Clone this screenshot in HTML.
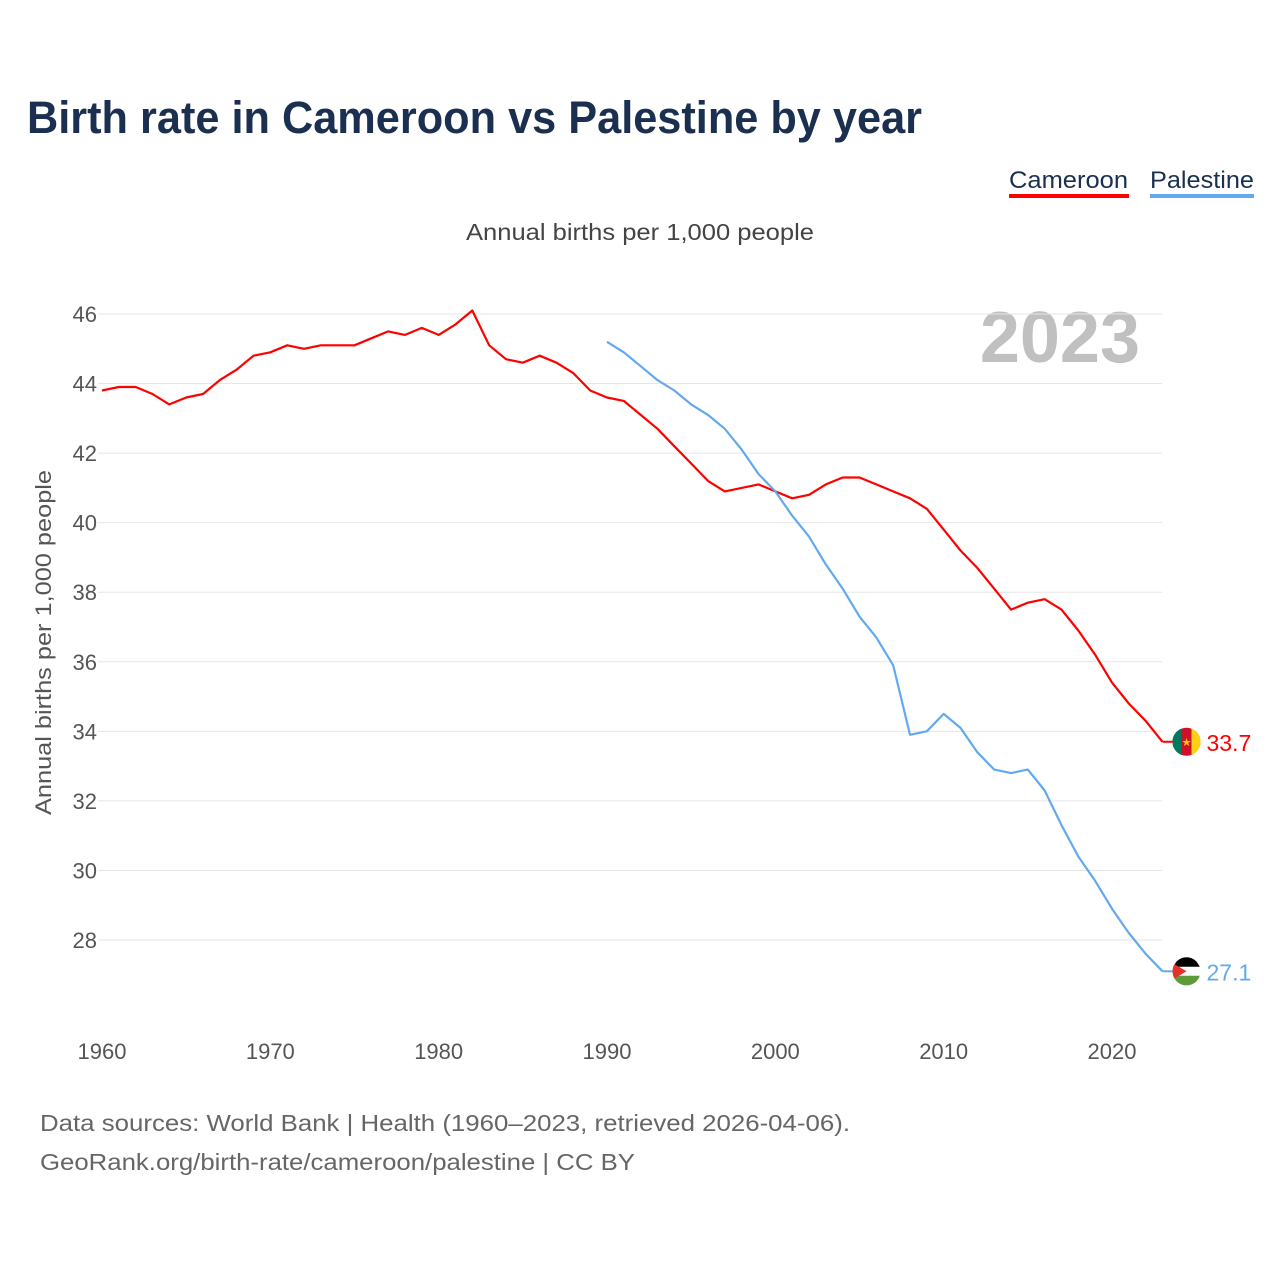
<!DOCTYPE html>
<html><head><meta charset="utf-8"><style>
body{margin:0;background:#fff;font-family:"Liberation Sans",sans-serif;}
svg text{font-family:"Liberation Sans",sans-serif;}
</style></head><body>
<svg id="c" width="1280" height="1280" xmlns="http://www.w3.org/2000/svg">
<text x="27" y="133" font-size="45" font-weight="bold" fill="#1b3050" textLength="895" lengthAdjust="spacingAndGlyphs">Birth rate in Cameroon vs Palestine by year</text>
<g><text x="1009" y="188" font-size="24" fill="#1b3050" textLength="119" lengthAdjust="spacingAndGlyphs">Cameroon</text><rect x="1009" y="194" width="120" height="4" fill="#ff0000"/></g>
<g><text x="1150" y="188" font-size="24" fill="#1b3050" textLength="104" lengthAdjust="spacingAndGlyphs">Palestine</text><rect x="1150" y="194" width="104" height="4" fill="#63a9ee"/></g>
<text x="466" y="240" font-size="23" fill="#444" textLength="348" lengthAdjust="spacingAndGlyphs">Annual births per 1,000 people</text>
<text x="1140" y="362" font-size="72" font-weight="bold" fill="#c0c0c0" text-anchor="end">2023</text>
<text transform="translate(51,815) rotate(-90)" font-size="22" fill="#555" textLength="345" lengthAdjust="spacingAndGlyphs">Annual births per 1,000 people</text>
<g id="grid"></g><g id="lines"></g>
<text x="40" y="1131" font-size="23" fill="#666" textLength="810" lengthAdjust="spacingAndGlyphs">Data sources: World Bank | Health (1960–2023, retrieved 2026-04-06).</text>
<text x="40" y="1170" font-size="23" fill="#666" textLength="595" lengthAdjust="spacingAndGlyphs">GeoRank.org/birth-rate/cameroon/palestine | CC BY</text>
</svg>
<script>
const yTicks=[28,30,32,34,36,38,40,42,44,46];
const xTicks=[1960,1970,1980,1990,2000,2010,2020];
const camYears=[];for(let y=1960;y<=2023;y++)camYears.push(y);
const camValues=[43.8,43.9,43.9,43.7,43.4,43.6,43.7,44.1,44.4,44.8,44.9,45.1,45.0,45.1,45.1,45.1,45.3,45.5,45.4,45.6,45.4,45.7,46.1,45.1,44.7,44.6,44.8,44.6,44.3,43.8,43.6,43.5,43.1,42.7,42.2,41.7,41.2,40.9,41.0,41.1,40.9,40.7,40.8,41.1,41.3,41.3,41.1,40.9,40.7,40.4,39.8,39.2,38.7,38.1,37.5,37.7,37.8,37.5,36.9,36.2,35.4,34.8,34.3,33.7];
const palYears=[];for(let y=1990;y<=2023;y++)palYears.push(y);
const palValues=[45.2,44.9,44.5,44.1,43.8,43.4,43.1,42.7,42.1,41.4,40.9,40.2,39.6,38.8,38.1,37.3,36.7,35.9,33.9,34.0,34.5,34.1,33.4,32.9,32.8,32.9,32.3,31.3,30.4,29.7,28.9,28.2,27.6,27.1];
const NS="http://www.w3.org/2000/svg";
const X=v=>102+(v-1960)*(1112-102)/60;
const Y=v=>314+(46-v)*(940-314)/18;
function mk(t,a,p){const e=document.createElementNS(NS,t);for(const k in a)e.setAttribute(k,a[k]);p.appendChild(e);return e;}
const g=document.getElementById('grid'),L=document.getElementById('lines');
yTicks.forEach(v=>{const l=mk('line',{x1:98,x2:1162,y1:Y(v),y2:Y(v),stroke:'#e6e6e6'},g);


const t=mk('text',{x:97,y:Y(v)+8,'font-size':22,fill:'#555','text-anchor':'end'},g);t.textContent=v;

});
xTicks.forEach(v=>{const t=mk('text',{x:X(v),y:1059,'font-size':22,fill:'#555','text-anchor':'middle'},g);t.textContent=v;

});
function line(xs,vs,c,name){const d=xs.map((x,i)=>(i?'L':'M')+X(x).toFixed(1)+','+Y(vs[i]).toFixed(1)).join('');
const p=mk('path',{d:d,fill:'none',stroke:c,'stroke-width':2.2,'stroke-linejoin':'round'},L);


const lx=X(xs[xs.length-1]),ly=Y(vs[vs.length-1]);
mk('line',{x1:lx,x2:lx+14,y1:ly,y2:ly,stroke:c,'stroke-width':2},L);
return [lx+24,ly];}
function flagCam(cx,cy){const f=mk('g',{},L);


mk('circle',{cx:cx,cy:cy,r:14,fill:'#ce1126'},f);
mk('path',{d:`M${cx-5},${cy-13.1}A14,14 0 0 0 ${cx-5},${cy+13.1}Z`,fill:'#007a5e'},f);
mk('path',{d:`M${cx+5},${cy-13.1}A14,14 0 0 1 ${cx+5},${cy+13.1}Z`,fill:'#fcd116'},f);
const s=mk('text',{x:cx,y:cy+4,'font-size':11,fill:'#fcd116','text-anchor':'middle'},f);s.textContent='★';}
function flagPal(cx,cy){const f=mk('g',{},L);


mk('circle',{cx:cx,cy:cy,r:14,fill:'#fff'},f);
mk('path',{d:`M${cx-10},${cy-9.8}A14,14 0 0 1 ${cx+10},${cy-9.8}L${cx+13.3},${cy-4.5}L${cx-13.3},${cy-4.5}Z`,fill:'#000'},f);
mk('path',{d:`M${cx-13.3},${cy+4.5}L${cx+13.3},${cy+4.5}A14,14 0 0 1 ${cx-13.3},${cy+4.5}Z`,fill:'#5f9a3a'},f);
mk('path',{d:`M${cx-12},${cy-7.2}L${cx},${cy}L${cx-12},${cy+7.2}A14,14 0 0 1 ${cx-12},${cy-7.2}Z`,fill:'#e4312b'},f);}
let [cx,cy]=line(camYears,camValues,'#ff0000','cameroon-line');flagCam(cx,cy);
let t=mk('text',{x:cx+20,y:cy+9,'font-size':23,fill:'#ff0000'},L);t.textContent=camValues[camValues.length-1];


[cx,cy]=line(palYears,palValues,'#63a9ee','palestine-line');flagPal(cx,cy);
t=mk('text',{x:cx+20,y:cy+9,'font-size':23,fill:'#63a9ee'},L);t.textContent=palValues[palValues.length-1];


</script>
</body></html>
